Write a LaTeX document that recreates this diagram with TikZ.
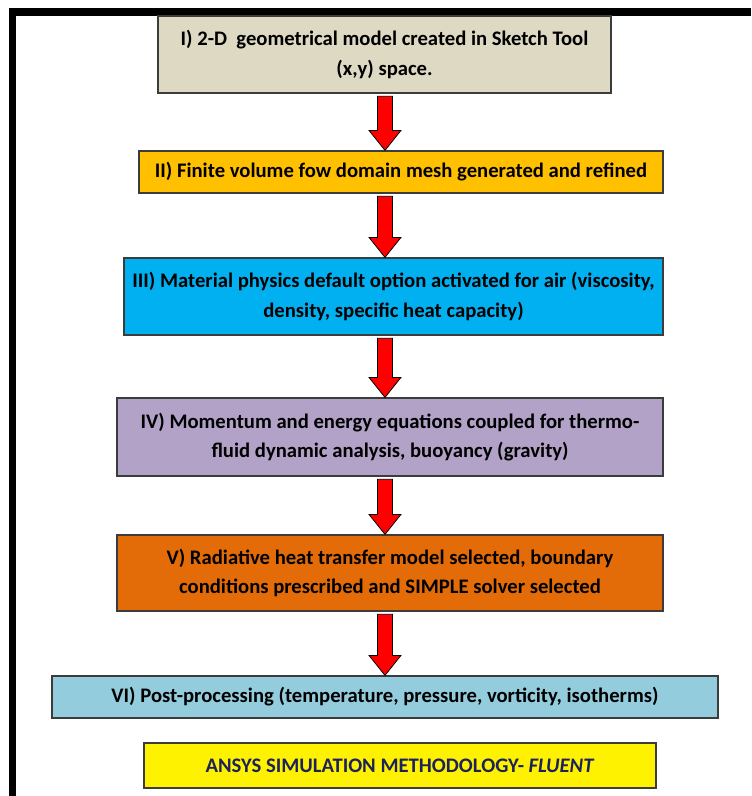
\documentclass[tikz,border=0pt]{standalone}
\usepackage{fontspec}
\setmainfont{Carlito}
\usetikzlibrary{calc}

\definecolor{boxtan}{HTML}{DDD9C3}
\definecolor{boxgold}{HTML}{FFC000}
\definecolor{boxcyan}{HTML}{00B0F0}
\definecolor{boxlav}{HTML}{B3A2C7}
\definecolor{boxorange}{HTML}{E36C09}
\definecolor{boxteal}{HTML}{93CDDD}
\definecolor{titlenavy}{RGB}{28,34,92}
\definecolor{edgegray}{HTML}{3C3C3C}

% block arrow between two steps
\newcommand{\flowarrow}[2]{%
  \draw[redarrow] let \p1=(axis |- #1.south), \p2=(axis |- #2.north) in
    (\x1-5.6pt,\y1-2pt) -- (\x1+5.6pt,\y1-2pt) -- (\x1+5.6pt,\y2+15pt)
    -- (\x1+12pt,\y2+15pt) -- (\x2,\y2) -- (\x1-12pt,\y2+15pt)
    -- (\x1-5.6pt,\y2+15pt) -- cycle;}

\begin{document}
\begin{tikzpicture}[x=0.75pt, y=-0.75pt,
    stepbox/.style={draw=edgegray, line width=0.9pt, inner sep=0pt,
      align=center, font=\bfseries\fontsize{15.5}{22}\selectfont},
    boxsize/.style 2 args={minimum width={#1*0.75pt}, minimum height={#2*0.75pt}},
    redarrow/.style={fill=red, draw=black, line width=0.6pt, line join=miter}]
  \useasboundingbox (0,0) rectangle (751,796);

  % frame
  \fill (9,8) rectangle (751,16);
  \fill (9,16) rectangle (16,796);

  \coordinate (axis) at (385,0);

  % steps
  \node[stepbox, fill=boxtan, boxsize={453}{77}] (s1) at (384.5,54.5)
    {I) 2-D\ \ geometrical model created in Sketch Tool\\(x,y) space.};
  \node[stepbox, fill=boxgold, boxsize={524}{42}] (s2) at (401,172)
    {II) Finite volume fow domain mesh generated and refined};
  \node[stepbox, fill=boxcyan, boxsize={539}{77}] (s3) at (393.5,296.5)
    {III) Material physics default option activated for air (viscosity,\\density, specific heat capacity)};
  \node[stepbox, fill=boxlav, boxsize={546}{78}] (s4) at (390,437)
    {IV) Momentum and energy equations coupled for thermo-\\fluid dynamic analysis, buoyancy (gravity)};
  \node[stepbox, fill=boxorange, boxsize={546}{76}] (s5) at (390,573)
    {V) Radiative heat transfer model selected, boundary\\conditions prescribed and SIMPLE solver selected};
  \node[stepbox, fill=boxteal, boxsize={666}{42}] (s6) at (385,697)
    {VI) Post-processing (temperature, pressure, vorticity, isotherms)};

  % title
  \node[stepbox, fill=yellow, text=titlenavy, boxsize={512}{45}] (title) at (400,765.5)
    {ANSYS SIMULATION METHODOLOGY- \textit{FLUENT}};

  % arrows
  \flowarrow{s1}{s2}
  \flowarrow{s2}{s3}
  \flowarrow{s3}{s4}
  \flowarrow{s4}{s5}
  \flowarrow{s5}{s6}
\end{tikzpicture}
\end{document}
